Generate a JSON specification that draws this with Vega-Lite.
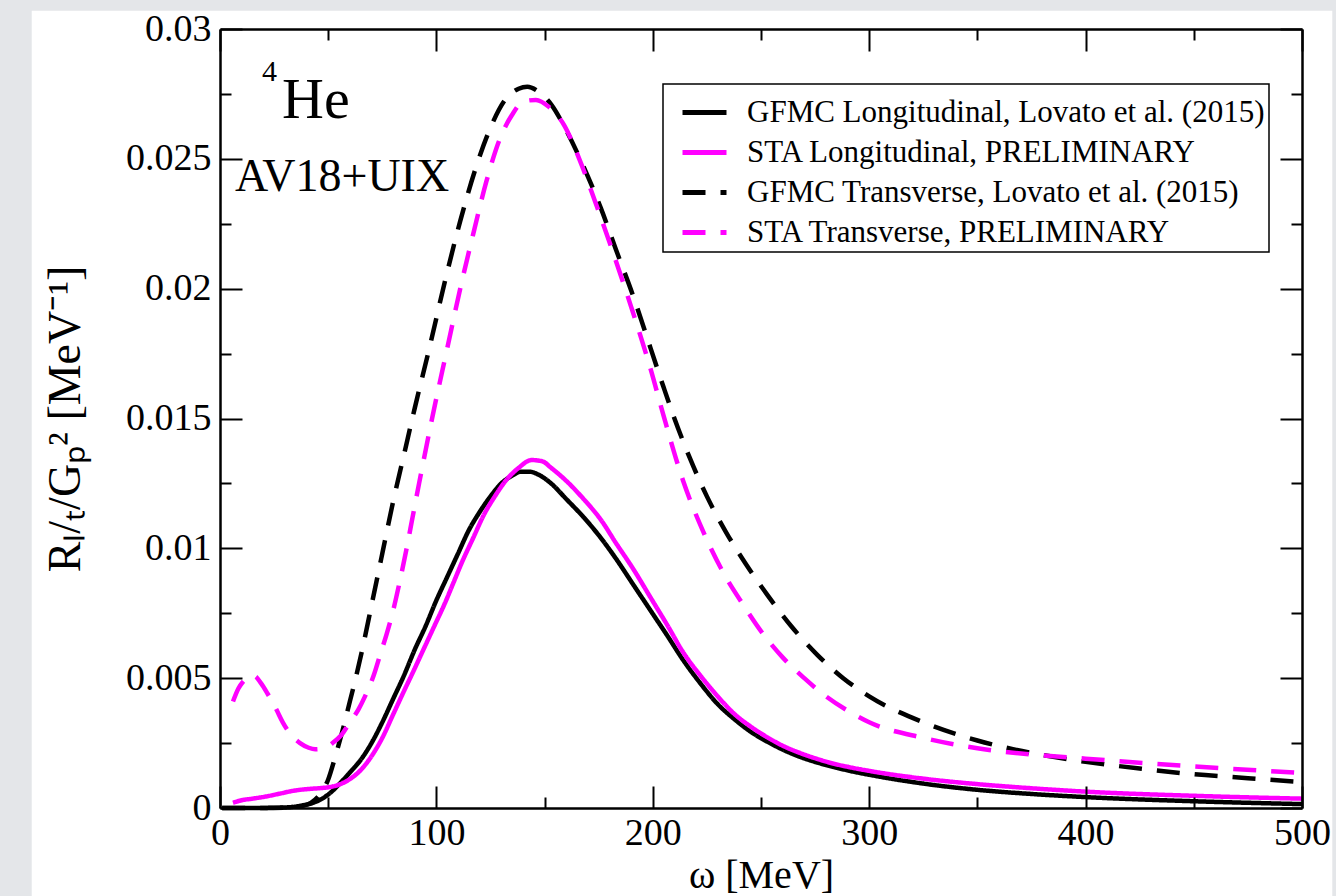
{
  "$schema": "https://vega.github.io/schema/vega-lite/v6.json",
  "width": 1082,
  "height": 779,
  "autosize": {"type": "none"},
  "padding": {"left": 220, "top": 29, "right": 34, "bottom": 88},
  "background": "#e4e6e9",
  "config": {
    "view": {"stroke": null},
    "font": "Liberation Serif",
    "axis": {"grid": false, "zindex": 1, "labelColor": "black", "titleColor": "black", "labelFont": "Liberation Serif", "titleFont": "Liberation Serif", "titleFontWeight": "normal"},
    "legend": {
      "orient": "none", "legendX": 443, "legendY": 55, "fillColor": "white", "strokeColor": "black", "strokeWidth": 1.5,
      "padding": 4, "labelFont": "Liberation Serif", "labelFontSize": 31, "labelColor": "black", "symbolType": "stroke",
      "symbolSize": 1936, "symbolStrokeWidth": 5, "symbolOffset": 13, "labelOffset": 18, "rowPadding": -5, "labelLimit": 0
    }
  },
  "resolve": {"axis": {"x": "independent", "y": "independent"}},
  "layer": [
    {
      "data": {"values": [{}]},
      "mark": {"type": "rect", "fill": "white", "clip": false},
      "encoding": {
        "x": {"datum": -87, "type": "quantitative", "scale": {"domain": [0, 500], "nice": false, "zero": false}, "axis": null},
        "x2": {"datum": 514},
        "y": {"datum": 0.0307, "type": "quantitative", "scale": {"domain": [0, 0.03], "nice": false, "zero": false}, "axis": null},
        "y2": {"datum": -0.0045}
      }
    },
    {
      "data": {"values": [
        {"s": "GFMC Longitudinal, Lovato et al. (2015)", "w": 1, "r": 0},
        {"s": "GFMC Longitudinal, Lovato et al. (2015)", "w": 15, "r": 0},
        {"s": "GFMC Longitudinal, Lovato et al. (2015)", "w": 25, "r": 0.00001},
        {"s": "GFMC Longitudinal, Lovato et al. (2015)", "w": 32, "r": 0.00003},
        {"s": "GFMC Longitudinal, Lovato et al. (2015)", "w": 38, "r": 0.0001},
        {"s": "GFMC Longitudinal, Lovato et al. (2015)", "w": 43, "r": 0.0002},
        {"s": "GFMC Longitudinal, Lovato et al. (2015)", "w": 48, "r": 0.0004},
        {"s": "GFMC Longitudinal, Lovato et al. (2015)", "w": 52, "r": 0.00066},
        {"s": "GFMC Longitudinal, Lovato et al. (2015)", "w": 56, "r": 0.001},
        {"s": "GFMC Longitudinal, Lovato et al. (2015)", "w": 60, "r": 0.00137},
        {"s": "GFMC Longitudinal, Lovato et al. (2015)", "w": 65, "r": 0.00185},
        {"s": "GFMC Longitudinal, Lovato et al. (2015)", "w": 70, "r": 0.0025},
        {"s": "GFMC Longitudinal, Lovato et al. (2015)", "w": 75, "r": 0.0033},
        {"s": "GFMC Longitudinal, Lovato et al. (2015)", "w": 80, "r": 0.0042},
        {"s": "GFMC Longitudinal, Lovato et al. (2015)", "w": 85, "r": 0.0051},
        {"s": "GFMC Longitudinal, Lovato et al. (2015)", "w": 90, "r": 0.0061},
        {"s": "GFMC Longitudinal, Lovato et al. (2015)", "w": 95, "r": 0.007},
        {"s": "GFMC Longitudinal, Lovato et al. (2015)", "w": 100, "r": 0.008},
        {"s": "GFMC Longitudinal, Lovato et al. (2015)", "w": 105, "r": 0.0089},
        {"s": "GFMC Longitudinal, Lovato et al. (2015)", "w": 110, "r": 0.0098},
        {"s": "GFMC Longitudinal, Lovato et al. (2015)", "w": 115, "r": 0.0107},
        {"s": "GFMC Longitudinal, Lovato et al. (2015)", "w": 120, "r": 0.0114},
        {"s": "GFMC Longitudinal, Lovato et al. (2015)", "w": 125, "r": 0.012},
        {"s": "GFMC Longitudinal, Lovato et al. (2015)", "w": 130, "r": 0.0125},
        {"s": "GFMC Longitudinal, Lovato et al. (2015)", "w": 135, "r": 0.0128},
        {"s": "GFMC Longitudinal, Lovato et al. (2015)", "w": 139, "r": 0.01295},
        {"s": "GFMC Longitudinal, Lovato et al. (2015)", "w": 143, "r": 0.01295},
        {"s": "GFMC Longitudinal, Lovato et al. (2015)", "w": 148, "r": 0.0128},
        {"s": "GFMC Longitudinal, Lovato et al. (2015)", "w": 153, "r": 0.0125},
        {"s": "GFMC Longitudinal, Lovato et al. (2015)", "w": 160, "r": 0.0119},
        {"s": "GFMC Longitudinal, Lovato et al. (2015)", "w": 168, "r": 0.0112},
        {"s": "GFMC Longitudinal, Lovato et al. (2015)", "w": 176, "r": 0.0104},
        {"s": "GFMC Longitudinal, Lovato et al. (2015)", "w": 183, "r": 0.0096},
        {"s": "GFMC Longitudinal, Lovato et al. (2015)", "w": 191, "r": 0.0086},
        {"s": "GFMC Longitudinal, Lovato et al. (2015)", "w": 199, "r": 0.0076},
        {"s": "GFMC Longitudinal, Lovato et al. (2015)", "w": 207, "r": 0.0066},
        {"s": "GFMC Longitudinal, Lovato et al. (2015)", "w": 214, "r": 0.0057},
        {"s": "GFMC Longitudinal, Lovato et al. (2015)", "w": 222, "r": 0.0048},
        {"s": "GFMC Longitudinal, Lovato et al. (2015)", "w": 230, "r": 0.004},
        {"s": "GFMC Longitudinal, Lovato et al. (2015)", "w": 238, "r": 0.0034},
        {"s": "GFMC Longitudinal, Lovato et al. (2015)", "w": 245, "r": 0.00295},
        {"s": "GFMC Longitudinal, Lovato et al. (2015)", "w": 253, "r": 0.00255},
        {"s": "GFMC Longitudinal, Lovato et al. (2015)", "w": 260, "r": 0.00225},
        {"s": "GFMC Longitudinal, Lovato et al. (2015)", "w": 268, "r": 0.00197},
        {"s": "GFMC Longitudinal, Lovato et al. (2015)", "w": 276, "r": 0.00175},
        {"s": "GFMC Longitudinal, Lovato et al. (2015)", "w": 284, "r": 0.00157},
        {"s": "GFMC Longitudinal, Lovato et al. (2015)", "w": 291, "r": 0.00143},
        {"s": "GFMC Longitudinal, Lovato et al. (2015)", "w": 300, "r": 0.00128},
        {"s": "GFMC Longitudinal, Lovato et al. (2015)", "w": 325, "r": 0.00094},
        {"s": "GFMC Longitudinal, Lovato et al. (2015)", "w": 350, "r": 0.0007},
        {"s": "GFMC Longitudinal, Lovato et al. (2015)", "w": 375, "r": 0.00054},
        {"s": "GFMC Longitudinal, Lovato et al. (2015)", "w": 400, "r": 0.00042},
        {"s": "GFMC Longitudinal, Lovato et al. (2015)", "w": 450, "r": 0.00026},
        {"s": "GFMC Longitudinal, Lovato et al. (2015)", "w": 500, "r": 0.00015},

        {"s": "STA Longitudinal, PRELIMINARY", "w": 6, "r": 0.0002},
        {"s": "STA Longitudinal, PRELIMINARY", "w": 10, "r": 0.0003},
        {"s": "STA Longitudinal, PRELIMINARY", "w": 15, "r": 0.00036},
        {"s": "STA Longitudinal, PRELIMINARY", "w": 21, "r": 0.00044},
        {"s": "STA Longitudinal, PRELIMINARY", "w": 28, "r": 0.00056},
        {"s": "STA Longitudinal, PRELIMINARY", "w": 33, "r": 0.00065},
        {"s": "STA Longitudinal, PRELIMINARY", "w": 37, "r": 0.0007},
        {"s": "STA Longitudinal, PRELIMINARY", "w": 42, "r": 0.00074},
        {"s": "STA Longitudinal, PRELIMINARY", "w": 47, "r": 0.00077},
        {"s": "STA Longitudinal, PRELIMINARY", "w": 51, "r": 0.00081},
        {"s": "STA Longitudinal, PRELIMINARY", "w": 55, "r": 0.0009},
        {"s": "STA Longitudinal, PRELIMINARY", "w": 59, "r": 0.00106},
        {"s": "STA Longitudinal, PRELIMINARY", "w": 63, "r": 0.0013},
        {"s": "STA Longitudinal, PRELIMINARY", "w": 67, "r": 0.00165},
        {"s": "STA Longitudinal, PRELIMINARY", "w": 71, "r": 0.00212},
        {"s": "STA Longitudinal, PRELIMINARY", "w": 75, "r": 0.0027},
        {"s": "STA Longitudinal, PRELIMINARY", "w": 80, "r": 0.0036},
        {"s": "STA Longitudinal, PRELIMINARY", "w": 85, "r": 0.0045},
        {"s": "STA Longitudinal, PRELIMINARY", "w": 89, "r": 0.0052},
        {"s": "STA Longitudinal, PRELIMINARY", "w": 94, "r": 0.0061},
        {"s": "STA Longitudinal, PRELIMINARY", "w": 99, "r": 0.007},
        {"s": "STA Longitudinal, PRELIMINARY", "w": 104, "r": 0.0079},
        {"s": "STA Longitudinal, PRELIMINARY", "w": 108, "r": 0.0087},
        {"s": "STA Longitudinal, PRELIMINARY", "w": 112, "r": 0.0095},
        {"s": "STA Longitudinal, PRELIMINARY", "w": 117, "r": 0.0104},
        {"s": "STA Longitudinal, PRELIMINARY", "w": 122, "r": 0.0113},
        {"s": "STA Longitudinal, PRELIMINARY", "w": 127, "r": 0.012},
        {"s": "STA Longitudinal, PRELIMINARY", "w": 132, "r": 0.0126},
        {"s": "STA Longitudinal, PRELIMINARY", "w": 138, "r": 0.0131},
        {"s": "STA Longitudinal, PRELIMINARY", "w": 144, "r": 0.0134},
        {"s": "STA Longitudinal, PRELIMINARY", "w": 149, "r": 0.01335},
        {"s": "STA Longitudinal, PRELIMINARY", "w": 153, "r": 0.0131},
        {"s": "STA Longitudinal, PRELIMINARY", "w": 160, "r": 0.0126},
        {"s": "STA Longitudinal, PRELIMINARY", "w": 168, "r": 0.0119},
        {"s": "STA Longitudinal, PRELIMINARY", "w": 176, "r": 0.0111},
        {"s": "STA Longitudinal, PRELIMINARY", "w": 183, "r": 0.0102},
        {"s": "STA Longitudinal, PRELIMINARY", "w": 191, "r": 0.0092},
        {"s": "STA Longitudinal, PRELIMINARY", "w": 199, "r": 0.0081},
        {"s": "STA Longitudinal, PRELIMINARY", "w": 207, "r": 0.007},
        {"s": "STA Longitudinal, PRELIMINARY", "w": 214, "r": 0.006},
        {"s": "STA Longitudinal, PRELIMINARY", "w": 222, "r": 0.0051},
        {"s": "STA Longitudinal, PRELIMINARY", "w": 230, "r": 0.0043},
        {"s": "STA Longitudinal, PRELIMINARY", "w": 238, "r": 0.0036},
        {"s": "STA Longitudinal, PRELIMINARY", "w": 245, "r": 0.00315},
        {"s": "STA Longitudinal, PRELIMINARY", "w": 253, "r": 0.00272},
        {"s": "STA Longitudinal, PRELIMINARY", "w": 260, "r": 0.0024},
        {"s": "STA Longitudinal, PRELIMINARY", "w": 268, "r": 0.00212},
        {"s": "STA Longitudinal, PRELIMINARY", "w": 276, "r": 0.00189},
        {"s": "STA Longitudinal, PRELIMINARY", "w": 284, "r": 0.0017},
        {"s": "STA Longitudinal, PRELIMINARY", "w": 291, "r": 0.00157},
        {"s": "STA Longitudinal, PRELIMINARY", "w": 300, "r": 0.00143},
        {"s": "STA Longitudinal, PRELIMINARY", "w": 325, "r": 0.00113},
        {"s": "STA Longitudinal, PRELIMINARY", "w": 350, "r": 0.00092},
        {"s": "STA Longitudinal, PRELIMINARY", "w": 375, "r": 0.00076},
        {"s": "STA Longitudinal, PRELIMINARY", "w": 400, "r": 0.00063},
        {"s": "STA Longitudinal, PRELIMINARY", "w": 450, "r": 0.00047},
        {"s": "STA Longitudinal, PRELIMINARY", "w": 500, "r": 0.00036},

        {"s": "GFMC Transverse, Lovato et al. (2015)", "w": 1, "r": 0},
        {"s": "GFMC Transverse, Lovato et al. (2015)", "w": 20, "r": 0},
        {"s": "GFMC Transverse, Lovato et al. (2015)", "w": 32, "r": 0.00002},
        {"s": "GFMC Transverse, Lovato et al. (2015)", "w": 38, "r": 0.00008},
        {"s": "GFMC Transverse, Lovato et al. (2015)", "w": 42, "r": 0.0002},
        {"s": "GFMC Transverse, Lovato et al. (2015)", "w": 46, "r": 0.0005},
        {"s": "GFMC Transverse, Lovato et al. (2015)", "w": 50, "r": 0.0011},
        {"s": "GFMC Transverse, Lovato et al. (2015)", "w": 53, "r": 0.0019},
        {"s": "GFMC Transverse, Lovato et al. (2015)", "w": 57, "r": 0.0031},
        {"s": "GFMC Transverse, Lovato et al. (2015)", "w": 60, "r": 0.0041},
        {"s": "GFMC Transverse, Lovato et al. (2015)", "w": 63, "r": 0.0051},
        {"s": "GFMC Transverse, Lovato et al. (2015)", "w": 66, "r": 0.0062},
        {"s": "GFMC Transverse, Lovato et al. (2015)", "w": 70, "r": 0.0078},
        {"s": "GFMC Transverse, Lovato et al. (2015)", "w": 75, "r": 0.0098},
        {"s": "GFMC Transverse, Lovato et al. (2015)", "w": 80, "r": 0.0118},
        {"s": "GFMC Transverse, Lovato et al. (2015)", "w": 85, "r": 0.0136},
        {"s": "GFMC Transverse, Lovato et al. (2015)", "w": 90, "r": 0.0154},
        {"s": "GFMC Transverse, Lovato et al. (2015)", "w": 97, "r": 0.0178},
        {"s": "GFMC Transverse, Lovato et al. (2015)", "w": 104, "r": 0.0203},
        {"s": "GFMC Transverse, Lovato et al. (2015)", "w": 111, "r": 0.0226},
        {"s": "GFMC Transverse, Lovato et al. (2015)", "w": 118, "r": 0.0246},
        {"s": "GFMC Transverse, Lovato et al. (2015)", "w": 125, "r": 0.0262},
        {"s": "GFMC Transverse, Lovato et al. (2015)", "w": 132, "r": 0.0273},
        {"s": "GFMC Transverse, Lovato et al. (2015)", "w": 138, "r": 0.0277},
        {"s": "GFMC Transverse, Lovato et al. (2015)", "w": 142, "r": 0.02778},
        {"s": "GFMC Transverse, Lovato et al. (2015)", "w": 147, "r": 0.0276},
        {"s": "GFMC Transverse, Lovato et al. (2015)", "w": 153, "r": 0.0271},
        {"s": "GFMC Transverse, Lovato et al. (2015)", "w": 160, "r": 0.0261},
        {"s": "GFMC Transverse, Lovato et al. (2015)", "w": 168, "r": 0.0247},
        {"s": "GFMC Transverse, Lovato et al. (2015)", "w": 176, "r": 0.0231},
        {"s": "GFMC Transverse, Lovato et al. (2015)", "w": 183, "r": 0.0215},
        {"s": "GFMC Transverse, Lovato et al. (2015)", "w": 191, "r": 0.0197},
        {"s": "GFMC Transverse, Lovato et al. (2015)", "w": 199, "r": 0.0177},
        {"s": "GFMC Transverse, Lovato et al. (2015)", "w": 205, "r": 0.0162},
        {"s": "GFMC Transverse, Lovato et al. (2015)", "w": 210, "r": 0.015},
        {"s": "GFMC Transverse, Lovato et al. (2015)", "w": 217, "r": 0.0135},
        {"s": "GFMC Transverse, Lovato et al. (2015)", "w": 225, "r": 0.012},
        {"s": "GFMC Transverse, Lovato et al. (2015)", "w": 234, "r": 0.0106},
        {"s": "GFMC Transverse, Lovato et al. (2015)", "w": 243, "r": 0.0094},
        {"s": "GFMC Transverse, Lovato et al. (2015)", "w": 253, "r": 0.0082},
        {"s": "GFMC Transverse, Lovato et al. (2015)", "w": 264, "r": 0.007},
        {"s": "GFMC Transverse, Lovato et al. (2015)", "w": 276, "r": 0.0059},
        {"s": "GFMC Transverse, Lovato et al. (2015)", "w": 288, "r": 0.005},
        {"s": "GFMC Transverse, Lovato et al. (2015)", "w": 300, "r": 0.0043},
        {"s": "GFMC Transverse, Lovato et al. (2015)", "w": 325, "r": 0.0033},
        {"s": "GFMC Transverse, Lovato et al. (2015)", "w": 350, "r": 0.0026},
        {"s": "GFMC Transverse, Lovato et al. (2015)", "w": 375, "r": 0.00212},
        {"s": "GFMC Transverse, Lovato et al. (2015)", "w": 400, "r": 0.00178},
        {"s": "GFMC Transverse, Lovato et al. (2015)", "w": 425, "r": 0.00152},
        {"s": "GFMC Transverse, Lovato et al. (2015)", "w": 450, "r": 0.0013},
        {"s": "GFMC Transverse, Lovato et al. (2015)", "w": 475, "r": 0.00115},
        {"s": "GFMC Transverse, Lovato et al. (2015)", "w": 500, "r": 0.001},

        {"s": "STA Transverse, PRELIMINARY", "w": 6, "r": 0.0041},
        {"s": "STA Transverse, PRELIMINARY", "w": 8.5, "r": 0.0046},
        {"s": "STA Transverse, PRELIMINARY", "w": 11, "r": 0.0049},
        {"s": "STA Transverse, PRELIMINARY", "w": 14, "r": 0.0051},
        {"s": "STA Transverse, PRELIMINARY", "w": 16, "r": 0.00508},
        {"s": "STA Transverse, PRELIMINARY", "w": 19, "r": 0.0048},
        {"s": "STA Transverse, PRELIMINARY", "w": 22, "r": 0.0044},
        {"s": "STA Transverse, PRELIMINARY", "w": 26, "r": 0.0038},
        {"s": "STA Transverse, PRELIMINARY", "w": 29, "r": 0.0033},
        {"s": "STA Transverse, PRELIMINARY", "w": 33, "r": 0.0028},
        {"s": "STA Transverse, PRELIMINARY", "w": 37, "r": 0.0025},
        {"s": "STA Transverse, PRELIMINARY", "w": 41, "r": 0.00232},
        {"s": "STA Transverse, PRELIMINARY", "w": 44, "r": 0.00226},
        {"s": "STA Transverse, PRELIMINARY", "w": 48, "r": 0.0023},
        {"s": "STA Transverse, PRELIMINARY", "w": 52, "r": 0.0025},
        {"s": "STA Transverse, PRELIMINARY", "w": 56, "r": 0.0028},
        {"s": "STA Transverse, PRELIMINARY", "w": 60, "r": 0.0033},
        {"s": "STA Transverse, PRELIMINARY", "w": 64, "r": 0.0038},
        {"s": "STA Transverse, PRELIMINARY", "w": 67, "r": 0.0043},
        {"s": "STA Transverse, PRELIMINARY", "w": 71, "r": 0.0051},
        {"s": "STA Transverse, PRELIMINARY", "w": 74, "r": 0.0059},
        {"s": "STA Transverse, PRELIMINARY", "w": 77, "r": 0.0067},
        {"s": "STA Transverse, PRELIMINARY", "w": 80, "r": 0.0076},
        {"s": "STA Transverse, PRELIMINARY", "w": 83, "r": 0.0087},
        {"s": "STA Transverse, PRELIMINARY", "w": 86, "r": 0.0099},
        {"s": "STA Transverse, PRELIMINARY", "w": 89, "r": 0.0112},
        {"s": "STA Transverse, PRELIMINARY", "w": 92, "r": 0.0125},
        {"s": "STA Transverse, PRELIMINARY", "w": 98, "r": 0.015},
        {"s": "STA Transverse, PRELIMINARY", "w": 105, "r": 0.0177},
        {"s": "STA Transverse, PRELIMINARY", "w": 111, "r": 0.02},
        {"s": "STA Transverse, PRELIMINARY", "w": 117, "r": 0.0221},
        {"s": "STA Transverse, PRELIMINARY", "w": 123, "r": 0.0241},
        {"s": "STA Transverse, PRELIMINARY", "w": 129, "r": 0.0257},
        {"s": "STA Transverse, PRELIMINARY", "w": 135, "r": 0.0267},
        {"s": "STA Transverse, PRELIMINARY", "w": 140, "r": 0.0272},
        {"s": "STA Transverse, PRELIMINARY", "w": 146, "r": 0.02727},
        {"s": "STA Transverse, PRELIMINARY", "w": 152, "r": 0.027},
        {"s": "STA Transverse, PRELIMINARY", "w": 159, "r": 0.0263},
        {"s": "STA Transverse, PRELIMINARY", "w": 166, "r": 0.025},
        {"s": "STA Transverse, PRELIMINARY", "w": 174, "r": 0.0232},
        {"s": "STA Transverse, PRELIMINARY", "w": 182, "r": 0.0213},
        {"s": "STA Transverse, PRELIMINARY", "w": 190, "r": 0.0193},
        {"s": "STA Transverse, PRELIMINARY", "w": 199, "r": 0.0169},
        {"s": "STA Transverse, PRELIMINARY", "w": 205, "r": 0.0151},
        {"s": "STA Transverse, PRELIMINARY", "w": 214, "r": 0.0126},
        {"s": "STA Transverse, PRELIMINARY", "w": 223, "r": 0.0107},
        {"s": "STA Transverse, PRELIMINARY", "w": 233, "r": 0.009},
        {"s": "STA Transverse, PRELIMINARY", "w": 242, "r": 0.0078},
        {"s": "STA Transverse, PRELIMINARY", "w": 251, "r": 0.0067},
        {"s": "STA Transverse, PRELIMINARY", "w": 260, "r": 0.0058},
        {"s": "STA Transverse, PRELIMINARY", "w": 270, "r": 0.005},
        {"s": "STA Transverse, PRELIMINARY", "w": 280, "r": 0.0043},
        {"s": "STA Transverse, PRELIMINARY", "w": 291, "r": 0.0037},
        {"s": "STA Transverse, PRELIMINARY", "w": 300, "r": 0.0033},
        {"s": "STA Transverse, PRELIMINARY", "w": 325, "r": 0.0027},
        {"s": "STA Transverse, PRELIMINARY", "w": 350, "r": 0.0023},
        {"s": "STA Transverse, PRELIMINARY", "w": 375, "r": 0.00206},
        {"s": "STA Transverse, PRELIMINARY", "w": 400, "r": 0.0019},
        {"s": "STA Transverse, PRELIMINARY", "w": 450, "r": 0.0016},
        {"s": "STA Transverse, PRELIMINARY", "w": 500, "r": 0.00135}
      ]},
      "mark": {"type": "line", "strokeWidth": 4.5, "interpolate": "monotone"},
      "encoding": {
        "x": {"field": "w", "type": "quantitative", "axis": {
          "orient": "bottom", "values": [0, 100, 200, 300, 400, 500], "ticks": false, "domain": false, "zindex": 1,
          "labelFontSize": 38, "labelPadding": 6, "labelFlush": false, "labelOverlap": false,
          "title": "ω [MeV]", "titleFontSize": 40, "titlePadding": 3
        }},
        "y": {"field": "r", "type": "quantitative", "axis": {
          "orient": "left", "values": [0, 0.005, 0.01, 0.015, 0.02, 0.025, 0.03], "format": ".3~f", "ticks": false, "domain": false, "zindex": 1,
          "labelFontSize": 38, "labelPadding": 9, "labelFlush": false, "labelOverlap": false,
          "title": "Rₗ/ₜ/Gₚ² [MeV⁻¹]", "titleFontSize": 46, "titlePadding": 36
        }},
        "color": {"field": "s", "type": "nominal",
          "scale": {"domain": ["GFMC Longitudinal, Lovato et al. (2015)", "STA Longitudinal, PRELIMINARY", "GFMC Transverse, Lovato et al. (2015)", "STA Transverse, PRELIMINARY"], "range": ["#000000", "#ff00ff", "#000000", "#ff00ff"]},
          "legend": {"title": null}},
        "strokeDash": {"field": "s", "type": "nominal",
          "scale": {"domain": ["GFMC Longitudinal, Lovato et al. (2015)", "STA Longitudinal, PRELIMINARY", "GFMC Transverse, Lovato et al. (2015)", "STA Transverse, PRELIMINARY"], "range": [[1, 0], [1, 0], [23, 15], [23, 15]]},
          "legend": {"title": null}}
      }
    },
    {
      "data": {"values": [{}]},
      "mark": {"type": "point", "opacity": 0},
      "encoding": {
        "x": {"datum": 0, "type": "quantitative", "axis": {"orient": "bottom", "zindex": 1, "values": [0, 100, 200, 300, 400, 500], "tickSize": -22, "tickWidth": 2, "tickColor": "black", "labels": false, "domain": true, "domainColor": "black", "domainWidth": 2.5, "title": null}},
        "y": {"datum": 0, "type": "quantitative", "axis": {"orient": "left", "zindex": 1, "values": [0, 0.005, 0.01, 0.015, 0.02, 0.025, 0.03], "tickSize": -22, "tickWidth": 2, "tickColor": "black", "labels": false, "domain": true, "domainColor": "black", "domainWidth": 2.5, "title": null}}
      }
    },
    {
      "data": {"values": [{}]},
      "mark": {"type": "point", "opacity": 0},
      "encoding": {
        "x": {"datum": 0, "type": "quantitative", "axis": {"orient": "bottom", "zindex": 1, "values": [50, 150, 250, 350, 450], "tickSize": -11, "tickWidth": 2, "tickColor": "black", "labels": false, "domain": false, "title": null}},
        "y": {"datum": 0, "type": "quantitative", "axis": {"orient": "left", "zindex": 1, "values": [0.0025, 0.0075, 0.0125, 0.0175, 0.0225, 0.0275], "tickSize": -11, "tickWidth": 2, "tickColor": "black", "labels": false, "domain": false, "title": null}}
      }
    },
    {
      "data": {"values": [{}]},
      "mark": {"type": "point", "opacity": 0},
      "encoding": {
        "x": {"datum": 0, "type": "quantitative", "axis": {"orient": "top", "zindex": 1, "values": [0, 100, 200, 300, 400, 500], "tickSize": -22, "tickWidth": 2, "tickColor": "black", "labels": false, "domain": true, "domainColor": "black", "domainWidth": 2.5, "title": null}},
        "y": {"datum": 0, "type": "quantitative", "axis": {"orient": "right", "zindex": 1, "values": [0, 0.005, 0.01, 0.015, 0.02, 0.025, 0.03], "tickSize": -22, "tickWidth": 2, "tickColor": "black", "labels": false, "domain": true, "domainColor": "black", "domainWidth": 2.5, "title": null}}
      }
    },
    {
      "data": {"values": [{}]},
      "mark": {"type": "point", "opacity": 0},
      "encoding": {
        "x": {"datum": 0, "type": "quantitative", "axis": {"orient": "top", "zindex": 1, "values": [50, 150, 250, 350, 450], "tickSize": -11, "tickWidth": 2, "tickColor": "black", "labels": false, "domain": false, "title": null}},
        "y": {"datum": 0, "type": "quantitative", "axis": {"orient": "right", "zindex": 1, "values": [0.0025, 0.0075, 0.0125, 0.0175, 0.0225, 0.0275], "tickSize": -11, "tickWidth": 2, "tickColor": "black", "labels": false, "domain": false, "title": null}}
      }
    },
    {
      "data": {"values": [{"t": "4"}]},
      "mark": {"type": "text", "fontSize": 30, "align": "left", "baseline": "alphabetic", "font": "Liberation Serif", "color": "black"},
      "encoding": {
        "text": {"field": "t"},
        "x": {"datum": 19.4, "type": "quantitative", "axis": null},
        "y": {"datum": 0.028, "type": "quantitative", "axis": null}
      }
    },
    {
      "data": {"values": [{"t": "He"}]},
      "mark": {"type": "text", "fontSize": 58, "align": "left", "baseline": "alphabetic", "font": "Liberation Serif", "color": "black"},
      "encoding": {
        "text": {"field": "t"},
        "x": {"datum": 28.7, "type": "quantitative", "axis": null},
        "y": {"datum": 0.02657, "type": "quantitative", "axis": null}
      }
    },
    {
      "data": {"values": [{"t": "AV18+UIX"}]},
      "mark": {"type": "text", "fontSize": 46, "align": "left", "baseline": "alphabetic", "font": "Liberation Serif", "color": "black"},
      "encoding": {
        "text": {"field": "t"},
        "x": {"datum": 6.9, "type": "quantitative", "axis": null},
        "y": {"datum": 0.02376, "type": "quantitative", "axis": null}
      }
    }
  ]
}
